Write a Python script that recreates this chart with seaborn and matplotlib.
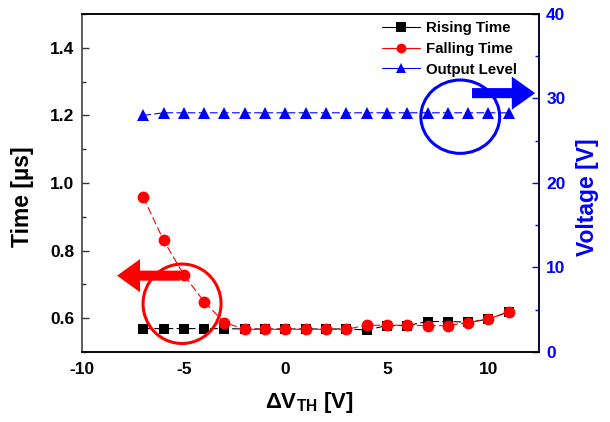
import numpy as np
import pandas as pd
import seaborn as sns
import matplotlib
matplotlib.use("Agg")
import matplotlib.pyplot as plt
from matplotlib.lines import Line2D
from matplotlib.patches import Ellipse, Polygon
from matplotlib.ticker import MultipleLocator, FormatStrFormatter

# Threshold-voltage shift sweep
delta_vth = [-7, -6, -5, -4, -3, -2, -1, 0, 1, 2, 3, 4, 5, 6, 7, 8, 9, 10, 11]
rising_time = [0.569, 0.569, 0.569, 0.569, 0.569, 0.568, 0.568, 0.568, 0.568, 0.568,
               0.568, 0.565, 0.578, 0.578, 0.590, 0.590, 0.588, 0.597, 0.619]
falling_time = [0.958, 0.830, 0.728, 0.648, 0.587, 0.567, 0.567, 0.567, 0.567, 0.567,
                0.567, 0.579, 0.579, 0.579, 0.578, 0.578, 0.587, 0.597, 0.619]
output_level = [28.0, 28.3, 28.3, 28.3, 28.3, 28.3, 28.3, 28.3, 28.3, 28.3,
                28.3, 28.3, 28.3, 28.3, 28.3, 28.3, 28.3, 28.3, 28.3]
series_names = ["Rising Time", "Falling Time", "Output Level"]

df = pd.DataFrame({"dvth": delta_vth, "rise": rising_time,
                   "fall": falling_time, "vout": output_level})

sns.set_style("white")
plt.rcParams["font.family"] = ["Liberation Sans", "DejaVu Sans"]
plt.rcParams["font.weight"] = "bold"
plt.rcParams["mathtext.fontset"] = "custom"
plt.rcParams["mathtext.rm"] = "Liberation Sans:bold"
plt.rcParams["mathtext.default"] = "rm"
plt.rcParams["axes.unicode_minus"] = False
for key in ("text.color", "axes.labelcolor", "xtick.color", "ytick.color"):
    plt.rcParams[key] = "black"

BLUE = "#0000FF"
RED = "#FF0000"
BLACK = "#000000"

fig = plt.figure(figsize=(6.10, 4.22), dpi=100)
ax = fig.add_axes([0.135, 0.166, 0.749, 0.801])
ax2 = ax.twinx()

dash = (0, (7, 3))
sns.lineplot(data=df, x="dvth", y="rise", ax=ax, color=BLACK, marker="s",
             markersize=7.5, markeredgewidth=0, linewidth=0.8, linestyle=dash, legend=False)
sns.lineplot(data=df, x="dvth", y="fall", ax=ax, color=RED, marker="o",
             markersize=8.5, markeredgewidth=0, linewidth=0.8, linestyle=dash, legend=False)
sns.lineplot(data=df, x="dvth", y="vout", ax=ax2, color=BLUE, marker="^",
             markersize=8.5, markeredgewidth=0, linewidth=0.8, linestyle=dash, legend=False)

ax.set_xlim(-10, 12.5)
ax.set_ylim(0.5, 1.5)
ax2.set_ylim(0, 40)

ax.xaxis.set_major_locator(MultipleLocator(5))
ax.xaxis.set_minor_locator(MultipleLocator(2.5))
ax.yaxis.set_major_locator(MultipleLocator(0.2))
ax.yaxis.set_minor_locator(MultipleLocator(0.1))
ax2.yaxis.set_major_locator(MultipleLocator(10))
ax2.yaxis.set_minor_locator(MultipleLocator(5))
ax.yaxis.set_major_formatter(FormatStrFormatter("%.1f"))

for a in (ax, ax2):
    for s in a.spines.values():
        s.set_linewidth(1.1)
        s.set_color(BLACK)
ax.spines["left"].set_color("#333333")
ax2.spines["right"].set_color(BLUE)
ax2.spines["left"].set_visible(False)

ax.tick_params(axis="both", which="both", direction="in", labelsize=12.5,
               width=1.0, color="#333333", labelcolor=BLACK)
ax.tick_params(axis="both", which="major", length=5)
ax.tick_params(axis="both", which="minor", length=3)
ax.tick_params(axis="x", pad=7)
ax.tick_params(axis="y", pad=6)
ax2.tick_params(axis="y", which="both", direction="in", labelsize=12.5,
                width=1.0, color=BLUE, labelcolor=BLUE, pad=5)
ax2.tick_params(axis="y", which="major", length=5)
ax2.tick_params(axis="y", which="minor", length=3)
for lbl in ax.get_xticklabels() + ax.get_yticklabels() + ax2.get_yticklabels():
    lbl.set_fontweight("bold")

ax.set_xlabel("ΔV$_{\\mathrm{TH}}$ [V]", fontsize=16, fontweight="bold", color=BLACK)
ax.set_ylabel("Time [µs]", fontsize=16.5, fontweight="bold", color=BLACK)
ax2.set_ylabel("Voltage [V]", fontsize=16.5, fontweight="bold", color=BLUE)
ax.xaxis.set_label_coords(0.497, -0.112)
ax.yaxis.set_label_coords(-0.106, 0.459)
ax2.yaxis.set_label_coords(1.080, 0.459)

# Highlight ellipses and direction arrows
ax.add_patch(Ellipse((-5.09, 0.6425), 3.84, 0.235, fill=False, edgecolor=RED,
                     linewidth=2.2, zorder=4))
ax.add_patch(Ellipse((8.61, 1.196), 3.88, 0.217, fill=False, edgecolor=BLUE,
                     linewidth=2.2, zorder=4))


def arrow_poly(x_tail, x_base, x_tip, y, half_shaft, half_head):
    return [(x_tail, y - half_shaft), (x_base, y - half_shaft), (x_base, y - half_head),
            (x_tip, y), (x_base, y + half_head), (x_base, y + half_shaft),
            (x_tail, y + half_shaft)]


ax.add_patch(Polygon(arrow_poly(-5.18, -7.16, -8.29, 0.7257, 0.0149, 0.049),
                     closed=True, facecolor=RED, edgecolor="none", zorder=1.5,
                     clip_on=False))
ax.add_patch(Polygon(arrow_poly(9.19, 11.15, 12.30, 1.2657, 0.0149, 0.049),
                     closed=True, facecolor=BLUE, edgecolor="none", zorder=4,
                     clip_on=False))
ax.set_zorder(ax2.get_zorder() + 1)
ax.patch.set_visible(False)

handles = [
    Line2D([], [], color=BLACK, marker="s", markersize=6.5, markeredgewidth=0, linewidth=0.8),
    Line2D([], [], color=RED, marker="o", markersize=7, markeredgewidth=0, linewidth=0.8),
    Line2D([], [], color=BLUE, marker="^", markersize=7, markeredgewidth=0, linewidth=0.8),
]
leg = ax.legend(handles, series_names, loc="upper left", bbox_to_anchor=(0.626, 0.95),
                bbox_transform=fig.transFigure, frameon=False, borderpad=0,
                borderaxespad=0, handlelength=2.55, handletextpad=0.42,
                labelspacing=0.45, prop={"size": 10.8, "weight": "bold"})
for t in leg.get_texts():
    t.set_color(BLACK)

fig.savefig("out.png", dpi=100)
